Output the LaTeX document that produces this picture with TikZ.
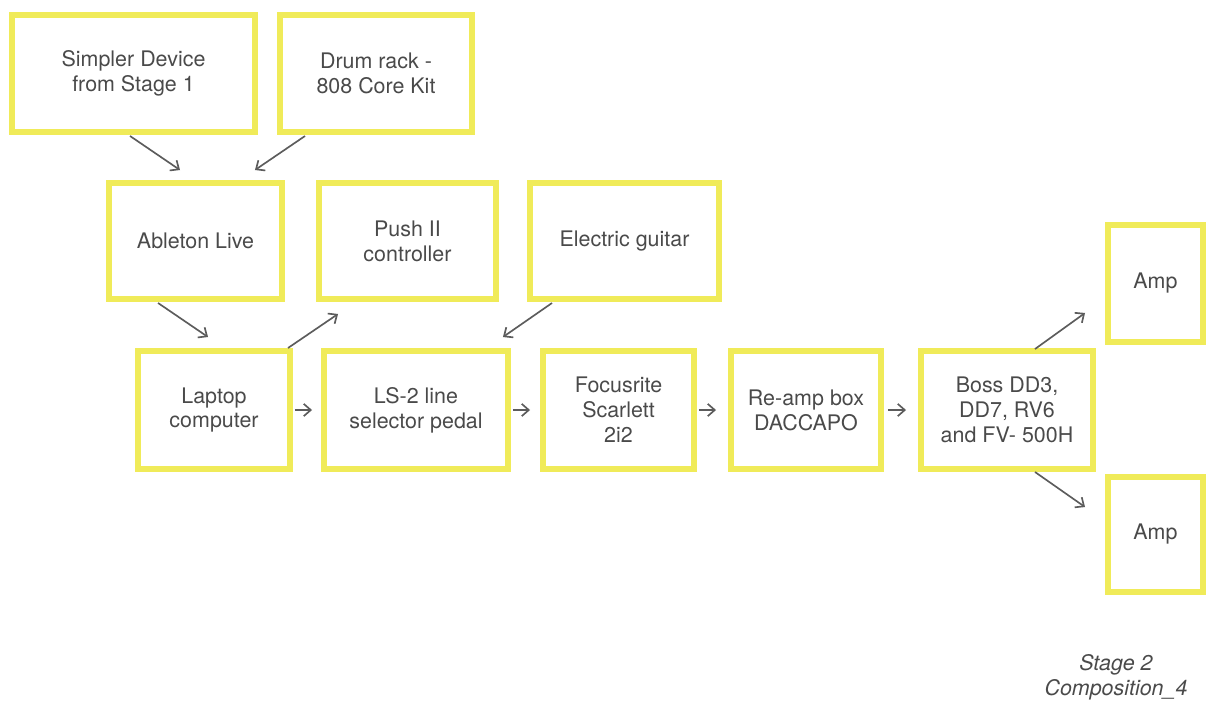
\documentclass[tikz,border=0pt]{standalone}
\usepackage{fontspec}
\setmainfont{TeX Gyre Heros}
\usepackage{tikz}
\usetikzlibrary{
  calc,%
  arrows.meta,%
  positioning
}
\definecolor{boxyellow}{rgb}{0.94, 0.92, 0.35}
\definecolor{inkgray}{rgb}{0.29, 0.29, 0.29}
\definecolor{wiregray}{rgb}{0.36, 0.36, 0.36}
\tikzset{>={Straight Barb[length=4pt, width=7pt]}}
\tikzset{stagebox/.style={draw=boxyellow, line width=3.4pt, align=center,
    text=inkgray, font=\fontsize{12.2}{14.2}\selectfont, inner sep=2pt}}
\tikzset{flow/.style={->, wiregray, line width=0.95pt}}
\tikzset{notetext/.style={align=center, text=inkgray,
    font=\fontsize{12.2}{14.2}\selectfont\itshape}}

\begin{document}
\begin{tikzpicture}[x=0.02cm, y=-0.02cm]
  \useasboundingbox (0,0) rectangle (1206,700); %
  % top row
  \node[stagebox, minimum width=4.86cm, minimum height=2.34cm] (simpler)
  at (133.5,73.5) {Simpler Device\\from Stage 1}; %
  \node[stagebox, minimum width=3.84cm, minimum height=2.34cm] (drumrack)
  at (376,73.5) {Drum rack -\\808 Core Kit}; %
  % second row
  \node[stagebox, minimum width=3.46cm, minimum height=2.32cm] (ableton)
  at (195.5,241) {Ableton Live}; %
  \node[stagebox, minimum width=3.54cm, minimum height=2.32cm] (push)
  at (407.5,241) {Push II\\controller}; %
  \node[stagebox, minimum width=3.78cm, minimum height=2.32cm] (guitar)
  at (624.5,241) {Electric guitar}; %
  % signal chain
  \node[stagebox, minimum width=3.04cm, minimum height=2.36cm] (laptop)
  at (214,410) {Laptop\\computer}; %
  \node[stagebox, minimum width=3.68cm, minimum height=2.36cm] (selector)
  at (416,410) {LS-2 line\\selector pedal}; %
  \node[stagebox, minimum width=3.02cm, minimum height=2.36cm] (focusrite)
  at (618.5,410) {Focusrite\\Scarlett\\2i2}; %
  \node[stagebox, minimum width=3.00cm, minimum height=2.36cm] (reamp)
  at (806,410) {Re-amp box\\DACCAPO}; %
  \node[stagebox, minimum width=3.44cm, minimum height=2.36cm] (boss)
  at (1007,410) {Boss DD3,\\DD7, RV6\\and FV- 500H}; %
  % amps at the right edge
  \node[stagebox, minimum width=1.90cm, minimum height=2.34cm] (ampa)
  at (1155.5,283.5) {Amp}; %
  \node[stagebox, minimum width=1.90cm, minimum height=2.30cm] (ampb)
  at (1155.5,534.5) {Amp}; %
  % connectors
  \draw[flow] ($(simpler.south)+(-3.5,1)$) -- ($(ableton.north)+(-15.5,-10)$); %
  \draw[flow] ($(drumrack.south west)+(28,1)$) -- ($(ableton.north east)+(-30,-10)$); %
  \draw[flow] ($(ableton.south west)+(52,1)$) -- ($(laptop.north west)+(73,-11)$); %
  \draw[flow] ($(laptop.north east)+(-5,0)$) -- ($(push.south west)+(22,12)$); %
  \draw[flow] ($(guitar.south west)+(25,1)$) -- ($(selector.north east)+(-8,-11)$); %
  \draw[flow] ($(laptop.east)+(2,0)$) -- ($(selector.west)+(-9,0)$); %
  \draw[flow] ($(selector.east)+(2,0)$) -- ($(focusrite.west)+(-10,0)$); %
  \draw[flow] ($(focusrite.east)+(2,0)$) -- ($(reamp.west)+(-12,0)$); %
  \draw[flow] ($(reamp.east)+(4,0)$) -- ($(boss.west)+(-12,0)$); %
  \draw[flow] ($(boss.north east)+(-61,1)$) -- ($(ampa.south west)+(-20,-32)$); %
  \draw[flow] ($(boss.south east)+(-61,0)$) -- ($(ampb.north west)+(-20,33)$); %
  % caption
  \node[notetext] (caption) at (1116,677) {Stage 2\\Composition\_4}; %
\end{tikzpicture}
\end{document}
